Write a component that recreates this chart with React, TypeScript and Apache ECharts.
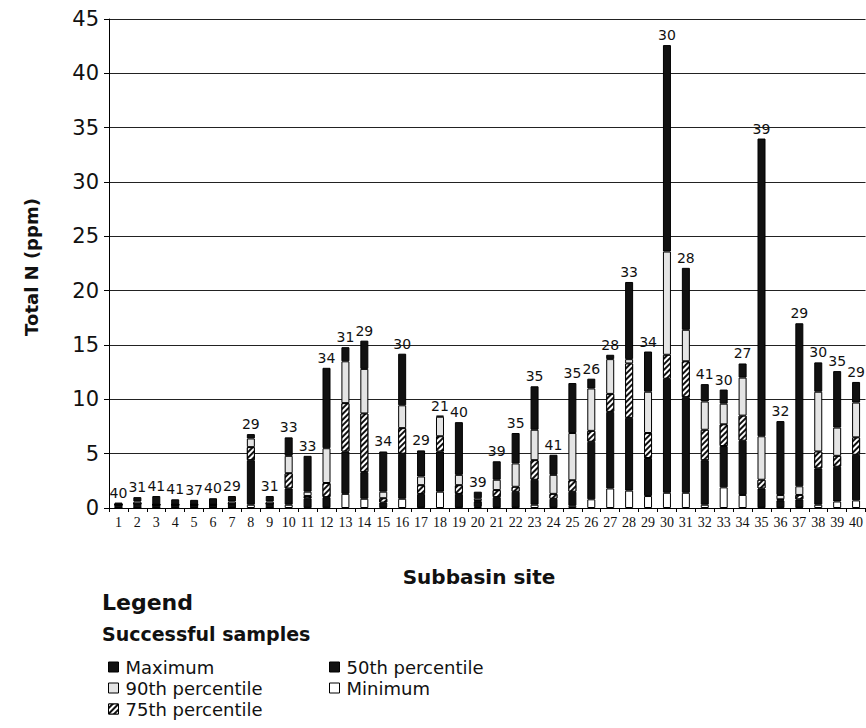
import React, { useEffect, useRef } from "react";
import * as echarts from "echarts";

const sites = ["1","2","3","4","5","6","7","8","9","10","11","12","13","14","15","16","17","18","19","20","21","22","23","24","25","26","27","28","29","30","31","32","33","34","35","36","37","38","39","40"];

const sampleCounts = [40,31,41,41,37,40,29,29,31,33,33,34,31,29,34,30,29,21,40,39,39,35,35,41,35,26,28,33,34,30,28,41,30,27,39,32,29,30,35,29];

const minimum = [0,0,0,0,0,0,0,0.3,0,0.3,0.05,0.05,1.3,0.85,0.05,0.85,0.05,1.5,0.05,0.1,0.05,0.05,0.3,0.05,0.2,0.8,1.8,1.6,1.1,1.4,1.4,0.3,1.9,1.2,0.05,0.05,0.05,0.3,0.6,0.7];
const p50 = [0.3,0.4,0.3,0.3,0.3,0.3,0.4,4.4,0.4,1.8,0.9,1.0,5.2,3.3,0.5,5.0,1.3,5.2,1.3,0.6,1.0,1.5,2.6,0.85,1.5,6.1,8.85,8.3,4.6,11.9,10.2,4.4,5.7,6.2,1.8,0.7,0.8,3.65,3.8,4.9];
const p75 = [0.3,0.4,0.3,0.3,0.3,0.3,0.4,5.6,0.4,3.2,1.1,2.3,9.65,8.7,0.9,7.35,2.1,6.6,2.1,0.7,1.65,1.95,4.4,1.3,2.55,7.1,10.5,13.3,6.9,14.1,13.5,7.2,7.7,8.5,2.6,0.8,1.2,5.2,4.8,6.5];
const p90 = [0.3,0.6,0.3,0.3,0.3,0.3,0.6,6.4,0.6,4.8,1.5,5.5,13.5,12.8,1.5,9.45,2.9,8.4,3.05,0.9,2.6,4.1,7.2,3.05,6.9,11.0,13.7,13.7,10.7,23.6,16.4,9.8,9.6,12.0,6.6,1.2,2.0,10.7,7.4,9.7];
const maximum = [0.5,1.0,1.1,0.8,0.75,0.9,1.1,6.8,1.1,6.5,4.8,12.9,14.8,15.4,5.2,14.2,5.3,8.5,7.9,1.5,4.3,6.9,11.2,4.9,11.5,11.9,14.1,20.8,14.4,42.6,22.1,11.4,10.9,13.3,34.0,8.0,17.0,13.4,12.6,11.6];

const yTicks = [0, 5, 10, 15, 20, 25, 30, 35, 40, 45];

const FONT = "DejaVu Sans";

function diff(a: number[], b: number[]) {
  return a.map((v, i) => Math.max(0, +(v - b[i]).toFixed(3)));
}

export default function App() {
  const ref = useRef<HTMLDivElement>(null);
  useEffect(() => {
    document.body.style.margin = "0";
    const chart = echarts.init(ref.current!, null, { renderer: "svg" });
    const base = {
      type: "bar",
      stack: "total",
      barWidth: 8,
      emphasis: { disabled: true },
    };
    const hatch = {
      symbol: "rect",
      symbolSize: 1,
      color: "#ffffff",
      dashArrayX: [1, 0],
      dashArrayY: [2, 2],
      rotation: -Math.PI / 4,
    };
    const legendText = { fontFamily: FONT, fontSize: 18, color: "#111", padding: [0, 0, 0, 2] };
    const option: any = {
      animation: false,
      backgroundColor: "#ffffff",
      grid: { left: 109, top: 19, width: 763, height: 489 },
      xAxis: {
        type: "category",
        data: sites,
        axisLine: { show: true, lineStyle: { color: "#000", width: 1 } },
        axisTick: { show: true, length: 4, lineStyle: { color: "#000" } },
        axisLabel: {
          interval: 0,
          margin: 7,
          fontFamily: "Liberation Serif",
          fontSize: 14,
          color: "#111",
        },
      },
      yAxis: {
        type: "value",
        min: 0,
        max: 45,
        interval: 5,
        axisLine: { show: true, lineStyle: { color: "#000", width: 1 } },
        axisTick: { show: true, length: 5, lineStyle: { color: "#000" } },
        axisLabel: {
          margin: 10,
          fontFamily: FONT,
          fontSize: 21,
          color: "#111",
          formatter: (v: number) => (yTicks.includes(v) ? String(v) : ""),
        },
        splitLine: { show: true, lineStyle: { color: "#222", width: 1 } },
      },
      legend: [
        {
          data: ["Maximum", "90th percentile", "75th percentile"],
          orient: "vertical",
          left: 103,
          top: 653,
          itemWidth: 10,
          itemHeight: 10,
          itemGap: 3,
          selectedMode: false,
          icon: "rect",
          itemStyle: { borderColor: "#000", borderWidth: 1 },
          textStyle: legendText,
        },
        {
          data: ["50th percentile", "Minimum"],
          orient: "vertical",
          left: 324,
          top: 653,
          itemWidth: 10,
          itemHeight: 10,
          itemGap: 3,
          selectedMode: false,
          icon: "rect",
          itemStyle: { borderColor: "#000", borderWidth: 1 },
          textStyle: legendText,
        },
      ],
      graphic: [
        {
          type: "text",
          x: 31,
          y: 267,
          rotation: Math.PI / 2,
          style: {
            text: "Total N (ppm)",
            font: `bold 18px "${FONT}"`,
            fill: "#111",
            textAlign: "center",
            textVerticalAlign: "middle",
          },
        },
        {
          type: "text",
          x: 479,
          y: 577,
          style: {
            text: "Subbasin site",
            font: `bold 20px "${FONT}"`,
            fill: "#111",
            textAlign: "center",
            textVerticalAlign: "middle",
          },
        },
        {
          type: "text",
          x: 102,
          y: 602,
          style: {
            text: "Legend",
            font: `bold 22px "${FONT}"`,
            fill: "#111",
            textAlign: "left",
            textVerticalAlign: "middle",
          },
        },
        {
          type: "text",
          x: 102,
          y: 634,
          style: {
            text: "Successful samples",
            font: `bold 19px "${FONT}"`,
            fill: "#111",
            textAlign: "left",
            textVerticalAlign: "middle",
          },
        },
      ],
      series: [
        {
          ...base,
          name: "Minimum",
          data: minimum,
          itemStyle: { color: "#ffffff", borderColor: "#000", borderWidth: 1 },
        },
        {
          ...base,
          name: "50th percentile",
          data: diff(p50, minimum),
          itemStyle: { color: "#111111", borderColor: "#000", borderWidth: 1 },
        },
        {
          ...base,
          name: "75th percentile",
          data: diff(p75, p50),
          itemStyle: { color: "#111111", borderColor: "#000", borderWidth: 1, decal: hatch },
        },
        {
          ...base,
          name: "90th percentile",
          data: diff(p90, p75),
          itemStyle: { color: "#e4e4e4", borderColor: "#000", borderWidth: 1 },
        },
        {
          ...base,
          name: "Maximum",
          data: diff(maximum, p90),
          itemStyle: { color: "#111111", borderColor: "#000", borderWidth: 1 },
          label: {
            show: true,
            position: "top",
            distance: 3,
            fontFamily: FONT,
            fontSize: 14,
            color: "#111",
            formatter: (p: any) => String(sampleCounts[p.dataIndex]),
          },
        },
      ],
    };
    chart.setOption(option);
    return () => chart.dispose();
  }, []);
  return <div ref={ref} style={{ width: 866, height: 728 }} />;
}
